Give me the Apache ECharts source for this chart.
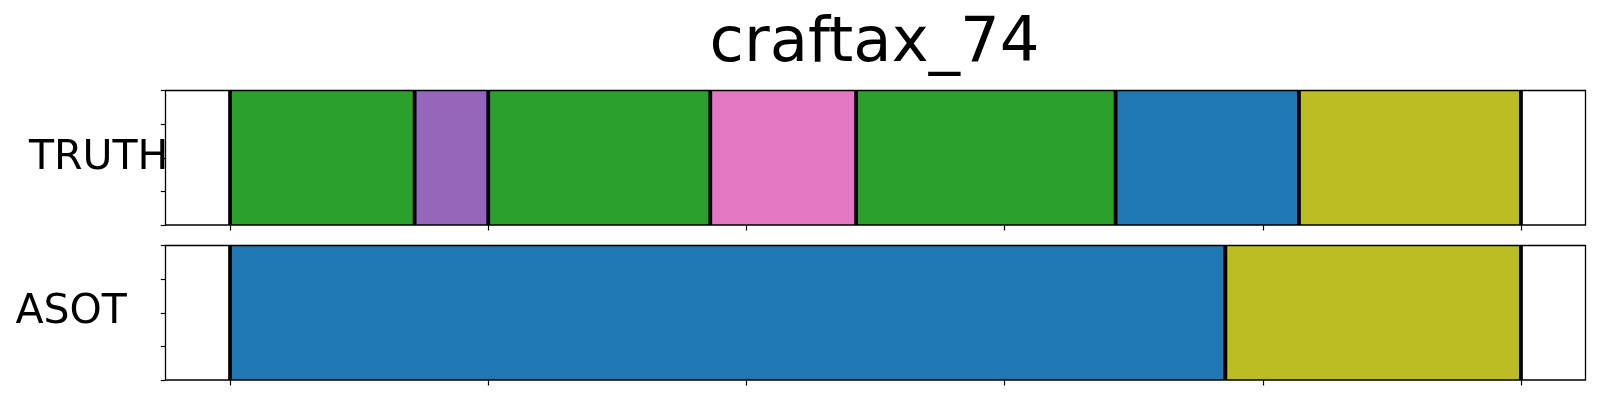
<!DOCTYPE html>
<html>
<head>
<meta charset="utf-8">
<script src="https://cdn.jsdelivr.net/npm/echarts@6/dist/echarts.min.js"></script>
<style>html,body{margin:0;padding:0;background:#fff;}#c{width:1600px;height:400px;}</style>
</head>
<body>
<div id="c"></div>
<script>
// ---- data ----
const title = 'craftax_74';
const rowLabels = ['TRUTH', 'ASOT'];
const xTicks = [0, 100, 200, 300, 400, 500];
const yTicks = [0, 1, 2, 3, 4];
const truthBounds = [0, 71.5, 100, 186, 242.5, 343, 414, 500];
const truthClasses = [2, 4, 2, 6, 2, 0, 8];
const asotBounds = [0, 385.5, 500];
const asotClasses = [0, 8];

// ---- style ----
const palette = ['#1f77b4','#ff7f0e','#2ca02c','#d62728','#9467bd','#8c564b','#e377c2','#7f7f7f','#bcbd22','#17becf'];
const FONT = 'DejaVu Sans';

function segs(bounds, classes) {
  return classes.map((c, i) => [bounds[i], bounds[i + 1], c]);
}

const chart = echarts.init(document.getElementById('c'), null, {renderer: 'canvas'});

const grids = [
  {left: 165.5, top: 90.5, width: 1420, height: 134.5},
  {left: 165.5, top: 245.5, width: 1420, height: 134.5}
];

function xAxis(i) {
  return {
    type: 'value', gridIndex: i, min: -25, max: 525,
    axisLine: {show: false, onZero: false},
    axisTick: {show: true, inside: false, length: 5.5, lineStyle: {color: '#000', width: 1.2}, customValues: xTicks},
    axisLabel: {show: false, customValues: xTicks},
    splitLine: {show: false}
  };
}
function yAxis(i) {
  return {
    type: 'value', gridIndex: i, min: yTicks[0], max: yTicks[yTicks.length - 1], interval: 1,
    axisLine: {show: false, onZero: false},
    axisTick: {show: true, inside: false, length: 4.7, lineStyle: {color: '#000', width: 1.2}},
    axisLabel: {show: false},
    splitLine: {show: false}
  };
}

function segSeries(i, data) {
  return {
    type: 'custom', xAxisIndex: i, yAxisIndex: i, data: data, z: 1,
    renderItem: function (params, api) {
      const p0 = api.coord([api.value(0), 4]);
      const p1 = api.coord([api.value(1), 0]);
      return {type: 'rect', shape: {x: p0[0], y: p0[1], width: p1[0] - p0[0], height: p1[1] - p0[1]},
        style: {fill: palette[api.value(2)]}};
    }
  };
}
function lineSeries(i, bounds) {
  return {
    type: 'custom', xAxisIndex: i, yAxisIndex: i, data: bounds.map(b => [b]), z: 2,
    renderItem: function (params, api) {
      const p0 = api.coord([api.value(0), 4]);
      const p1 = api.coord([api.value(0), 0]);
      return {type: 'line', shape: {x1: p0[0], y1: p0[1], x2: p1[0], y2: p1[1]},
        style: {stroke: '#000', lineWidth: 3.8}};
    }
  };
}

chart.setOption({
  animation: false,
  backgroundColor: '#fff',
  grid: grids.map(g => Object.assign({show: true, borderColor: '#000', borderWidth: 1.3, backgroundColor: 'transparent', z: 10}, g)),
  xAxis: [xAxis(0), xAxis(1)],
  yAxis: [yAxis(0), yAxis(1)],
  series: [
    segSeries(0, segs(truthBounds, truthClasses)),
    lineSeries(0, truthBounds),
    segSeries(1, segs(asotBounds, asotClasses)),
    lineSeries(1, asotBounds)
  ],
  graphic: [
    {type: 'text', x: 874.5, y: 44.5, style: {text: title, font: '62.5px "' + FONT + '"', fill: '#000', align: 'center', verticalAlign: 'middle'}},
    {type: 'text', x: 29, y: 158, style: {text: rowLabels[0], font: '41px "' + FONT + '"', fill: '#000', align: 'left', verticalAlign: 'middle'}},
    {type: 'text', x: 15.5, y: 312, style: {text: rowLabels[1], font: '41px "' + FONT + '"', fill: '#000', align: 'left', verticalAlign: 'middle'}}
  ]
});
</script>
</body>
</html>
